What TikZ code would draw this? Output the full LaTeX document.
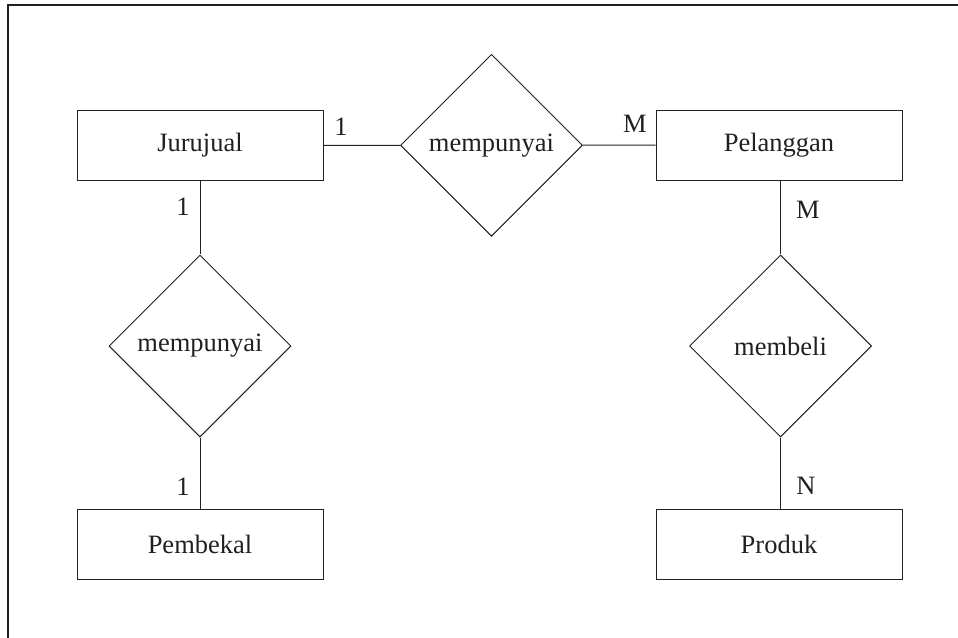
\documentclass[tikz,border=0pt]{standalone}
\usepackage{fontspec}
\setmainfont{Liberation Serif}
\usetikzlibrary{shapes.geometric}
\definecolor{garis}{HTML}{231F20}
\tikzset{
	entitas/.style={draw=garis, line width=1pt, minimum width=246pt, minimum height=70pt, inner sep=0pt, text=garis},
	relasi/.style={diamond, draw=garis, line width=1pt, minimum width=182pt, minimum height=182pt, inner sep=0pt, text=garis},
	kardinal/.style={text=garis, inner sep=0pt}
}
\begin{document}
\begin{tikzpicture}[x=1pt, y=-1pt, font=\fontsize{26.5}{30}\selectfont]
		\useasboundingbox (0,0) rectangle (958,637);
		%bingkai
		\draw[garis, line width=1.3pt] (8,640) -- (8,5) -- (960,5);
		%entitas
		\node[entitas] (jurujual) at (200,145.5) {Jurujual};
		\node[entitas] (pelanggan) at (779,145) {Pelanggan};
		\node[entitas] (pembekal) at (200,544.5) {Pembekal};
		\node[entitas] (produk) at (779,544.5) {Produk};
		%relasi
		\node[relasi] (mempunyai1) at (491.5,145.3) {mempunyai};
		\node[relasi] (mempunyai2) at (200,346) {mempunyai};
		\node[relasi] (membeli) at (780.5,346) {membeli};
		%garis
		\draw[garis, line width=1pt] (jurujual) -- (mempunyai1) -- (pelanggan);
		\draw[garis, line width=1pt] (jurujual) -- (mempunyai2) -- (pembekal);
		\draw[garis, line width=1pt] (pelanggan.south -| membeli) -- (membeli) -- (produk.north -| membeli);
		%kardinalitas
		\node[kardinal] (k1) at (341,127) {1};
		\node[kardinal] (k2) at (635,124) {M};
		\node[kardinal] (k3) at (183,207) {1};
		\node[kardinal] (k4) at (808,210) {M};
		\node[kardinal] (k5) at (183,487) {1};
		\node[kardinal] (k6) at (806,486) {N};
	\end{tikzpicture}
\end{document}
